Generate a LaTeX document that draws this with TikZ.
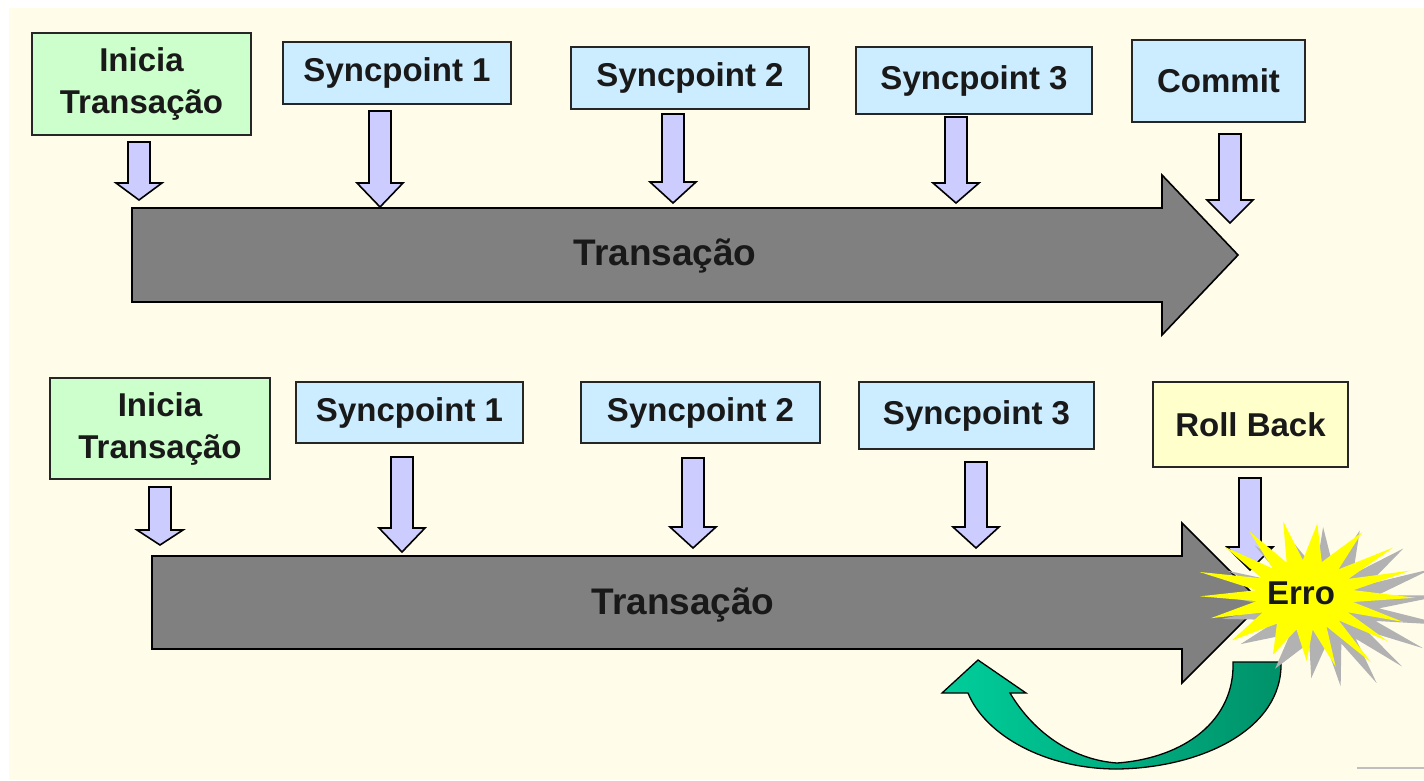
\documentclass[tikz,border=0pt]{standalone}
\usepackage{fontspec}
\setmainfont{Liberation Sans}
\definecolor{cream}{RGB}{255,253,234}
\definecolor{boxgreen}{RGB}{204,255,204}
\definecolor{boxblue}{RGB}{204,236,255}
\definecolor{boxyellow}{RGB}{255,255,204}
\definecolor{lav}{RGB}{204,204,255}
\definecolor{bargray}{RGB}{128,128,128}
\definecolor{shadowgray}{RGB}{178,178,178}
\definecolor{staryellow}{RGB}{255,255,0}
\definecolor{greenL}{RGB}{0,206,155}
\definecolor{greenD}{RGB}{0,145,105}
\definecolor{txt}{RGB}{25,25,25}
\newcommand{\lavarrow}[4]{\filldraw[lavstyle] (#1-11,#2) -- (#1+11,#2) -- (#1+11,#3) -- (#1+23,#3) -- (#1,#4) -- (#1-23,#3) -- (#1-11,#3) -- cycle;}
\begin{document}
\begin{tikzpicture}[x=1pt,y=-1pt,
  box/.style={draw=black!85, line width=1.6pt, text=txt, font=\fontsize{33}{42}\selectfont\bfseries, align=center, inner sep=0pt},
  lavstyle/.style={draw=black, line width=1.6pt, fill=lav},
  bigarrow/.style={draw=black, line width=1.6pt, fill=bargray},
  bartext/.style={text=txt, font=\fontsize{37}{44}\selectfont\bfseries, inner sep=0pt}]
\useasboundingbox (0,0) rectangle (1424,780);
\clip (0,0) rectangle (1424,780);
\fill[white] (0,0) rectangle (1424,780);
\fill[cream] (9,8) rectangle (1424,780);
\draw[black!25, line width=2pt] (1357,768) -- (1424,768);

% ---------- top row ----------
\draw[bigarrow] (132,208) -- (1162,208) -- (1162,175) -- (1238,255) -- (1162,335) -- (1162,302) -- (132,302) -- cycle;
\node[bartext] (tx1) at (665,256) {Transação};

\node[box, fill=boxgreen, minimum width=219pt, minimum height=102pt] (ini1) at (141.5,84) {Inicia\\Transação};
\node[box, fill=boxblue, minimum width=228pt, minimum height=62pt] (s11) at (397,73) {Syncpoint 1};
\node[box, fill=boxblue, minimum width=238pt, minimum height=62pt] (s12) at (690,78) {Syncpoint 2};
\node[box, fill=boxblue, minimum width=236pt, minimum height=67pt] (s13) at (974,80.5) {Syncpoint 3};
\node[box, fill=boxblue, minimum width=173pt, minimum height=82pt] (com) at (1218.5,81) {Commit};

\lavarrow{139}{142}{183}{200}
\lavarrow{380}{111}{183}{207}
\lavarrow{673}{114}{182}{203}
\lavarrow{956}{117}{183}{203}
\lavarrow{1230}{134}{200}{223}

% ---------- bottom row ----------
\draw[bigarrow] (152,556) -- (1182,556) -- (1182,523) -- (1262,603) -- (1182,683) -- (1182,649) -- (152,649) -- cycle;
\node[bartext] (tx2) at (683,605) {Transação};

\node[box, fill=boxgreen, minimum width=220pt, minimum height=101pt] (ini2) at (160,428.5) {Inicia\\Transação};
\node[box, fill=boxblue, minimum width=227pt, minimum height=61pt] (s21) at (409.5,412.5) {Syncpoint 1};
\node[box, fill=boxblue, minimum width=239pt, minimum height=61pt] (s22) at (700.5,412.5) {Syncpoint 2};
\node[box, fill=boxblue, minimum width=235pt, minimum height=67pt] (s23) at (976.5,415.5) {Syncpoint 3};
\node[box, fill=boxyellow, minimum width=195pt, minimum height=85pt] (rb) at (1250.5,424.5) {Roll Back};

\lavarrow{160}{487}{530}{545}
\lavarrow{402}{457}{528}{552}
\lavarrow{693}{458}{527}{548}
\lavarrow{976}{462}{527}{548}
\lavarrow{1250}{478}{547}{570}

% ---------- green curved arrow ----------
\path[draw=black, line width=1.3pt, left color=greenL, right color=greenD]
  (1281,662) .. controls (1283,730) and (1200,768) .. (1117,769)
  .. controls (1045,769) and (985,735) .. (968,693)
  -- (942,693) -- (978,660) -- (1026,693) -- (1010,693)
  .. controls (1035,735) and (1075,760) .. (1117,763)
  .. controls (1185,758) and (1235,720) .. (1233,662) -- cycle;

% ---------- explosion ----------
\begin{scope}[shift={(1327,607)}]
\fill[shadowgray] (12:121 and 86)
  \foreach \m/\a/\f [evaluate=\f as \rx using 112*\f, evaluate=\f as \ry using 80*\f] in
  {21.5/31/1.0, 39.5/48/1.0, 56.5/65/1.05, 74/83/1.0, 91/99/0.9, 110/121/0.9, 135/149/0.9, 160/171/0.95, 180/189/1.0, 198/207/1.0, 218.5/230/1.0, 239/248/1.0, 258/268/1.0, 277.5/287/1.0, 300/313/1.0, 323/333/1.05, 342.5/352/1.05, 2/12/1.08}
  { -- (\m:52 and 38) -- (\a:{\rx} and {\ry}) } -- cycle;
\end{scope}
\begin{scope}[shift={(1305,595)}]
\fill[staryellow] (2:110 and 79)
  \foreach \m/\a/\f [evaluate=\f as \rx using 105*\f, evaluate=\f as \ry using 75*\f] in
  {11.5/21/1.0, 29.5/38/1.0, 46.5/55/1.1, 64/73/1.0, 81/89/0.88, 100/111/0.85, 125/139/0.92, 150/161/0.95, 170/179/1.0, 188/197/1.05, 208.5/220/1.0, 229/238/1.0, 248/258/1.0, 267.5/277/0.96, 290/303/1.0, 313/323/1.05, 332.5/342/1.05, 352/362/1.05}
  { -- (\m:49 and 35) -- (\a:{\rx} and {\ry}) } -- cycle;
\end{scope}
\node[text=txt, font=\fontsize{33}{40}\selectfont\bfseries, inner sep=0pt] (err) at (1301,593) {Erro};
\end{tikzpicture}
\end{document}
